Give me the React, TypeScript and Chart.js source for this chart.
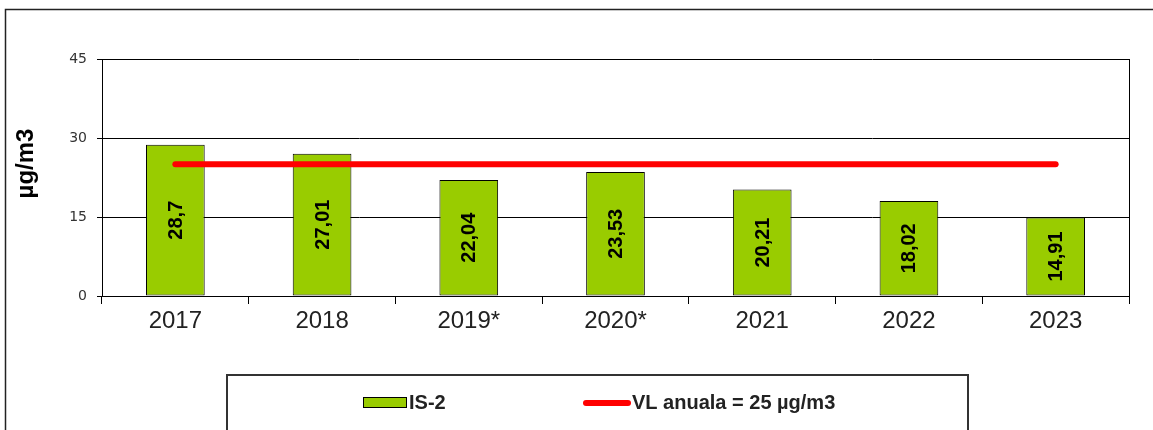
import React, { useEffect, useRef } from "react";
import { Chart, registerables } from "chart.js";

Chart.register(...registerables);

const categories = ["2017", "2018", "2019*", "2020*", "2021", "2022", "2023"];
const is2Values = [28.7, 27.01, 22.04, 23.53, 20.21, 18.02, 14.91];
const limitValues = [25, 25, 25, 25, 25, 25, 25];
const seriesLabels = ["IS-2", "VL anuala = 25 µg/m3"];
const yAxisTitle = "µg/m3";

const FONT = "'Liberation Sans', Arial, sans-serif";

const framePlugin = {
  id: "frame",
  afterDraw(chart: any) {
    const ctx = chart.ctx;
    const ca = chart.chartArea;
    ctx.save();
    // outer border
    ctx.strokeStyle = "#222";
    ctx.lineWidth = 1.5;
    ctx.strokeRect(5.5, 9.5, 1300, 600);
    // right border of plot area
    ctx.strokeStyle = "#000";
    ctx.lineWidth = 1;
    ctx.beginPath();
    ctx.moveTo(Math.round(ca.right) + 0.5, ca.top);
    ctx.lineTo(Math.round(ca.right) + 0.5, ca.bottom);
    ctx.stroke();
    // y axis title
    ctx.fillStyle = "#000";
    ctx.font = `bold 24px ${FONT}`;
    ctx.translate(26, (ca.top + ca.bottom) / 2 - 14);
    ctx.rotate(-Math.PI / 2);
    ctx.textAlign = "center";
    ctx.textBaseline = "middle";
    ctx.fillText(yAxisTitle, 0, 0);
    ctx.restore();

    // legend
    ctx.save();
    ctx.strokeStyle = "#333";
    ctx.lineWidth = 2;
    ctx.strokeRect(227, 375, 741, 200);
    const ds = chart.data.datasets;
    // bar entry
    ctx.fillStyle = ds[0].backgroundColor;
    ctx.fillRect(363, 397, 44, 11);
    ctx.strokeStyle = "#000";
    ctx.lineWidth = 1;
    ctx.strokeRect(363.5, 397.5, 43, 10);
    ctx.fillStyle = "#222";
    ctx.font = `bold 20px ${FONT}`;
    ctx.textBaseline = "middle";
    ctx.textAlign = "left";
    ctx.fillText(ds[0].label, 409, 403);
    // line entry
    ctx.strokeStyle = ds[1].borderColor;
    ctx.lineWidth = 6;
    ctx.lineCap = "round";
    ctx.beginPath();
    ctx.moveTo(586, 403);
    ctx.lineTo(628, 403);
    ctx.stroke();
    ctx.fillText(ds[1].label, 632, 403);
    ctx.restore();
  },
};

const labelPlugin = {
  id: "barLabels",
  afterDatasetsDraw(chart: any) {
    const ctx = chart.ctx;
    const meta = chart.getDatasetMeta(0);
    const values = chart.data.datasets[0].data;
    ctx.save();
    ctx.fillStyle = "#000";
    ctx.font = `bold 20px ${FONT}`;
    ctx.textAlign = "center";
    ctx.textBaseline = "middle";
    meta.data.forEach((el: any, i: number) => {
      const x = el.x;
      const y = (el.y + el.base) / 2;
      ctx.save();
      ctx.translate(x, y);
      ctx.rotate(-Math.PI / 2);
      ctx.fillText(String(values[i]).replace(".", ","), 0, 1);
      ctx.restore();
    });
    ctx.restore();
  },
};

export default function App() {
  const ref = useRef<HTMLCanvasElement>(null);
  useEffect(() => {
    if (!ref.current) return;
    const chart = new Chart(ref.current, {
      type: "bar",
      data: {
        labels: categories,
        datasets: [
          {
            type: "bar",
            label: seriesLabels[0],
            data: is2Values,
            backgroundColor: "#99CC00",
            borderColor: "#000",
            borderWidth: 1,
            borderSkipped: false,
            barPercentage: 0.4,
            categoryPercentage: 1,
            order: 2,
          },
          {
            type: "line",
            label: seriesLabels[1],
            data: limitValues,
            borderColor: "#FF0000",
            backgroundColor: "#FF0000",
            borderWidth: 6,
            borderCapStyle: "round",
            pointRadius: 0,
            fill: false,
            order: 1,
          },
        ] as any,
      },
      options: {
        responsive: false,
        animation: false,
        layout: { padding: { left: 0, right: 24, top: 59, bottom: 0 } },
        plugins: {
          legend: { display: false },
          tooltip: { enabled: false },
        },
        scales: {
          x: {
            offset: true,
            grid: {
              offset: true,
              drawOnChartArea: false,
              tickLength: 8,
              color: "#000",
            },
            border: { color: "#000" },
            ticks: {
              color: "#222",
              font: { family: FONT, size: 24 },
              padding: 3,
            },
            afterFit(scale: any) {
              scale.height = 134;
            },
          },
          y: {
            min: 0,
            max: 45,
            ticks: {
              stepSize: 15,
              color: "#333",
              font: { family: "'DejaVu Sans', sans-serif", size: 14 },
              padding: 10,
            },
            grid: { color: "#000", tickLength: 5 },
            border: { color: "#000" },
            afterFit(scale: any) {
              scale.width = 102;
            },
          },
        },
      },
      plugins: [labelPlugin, framePlugin],
    });
    return () => chart.destroy();
  }, []);
  return (
    <div style={{ position: "absolute", left: 0, top: 0, width: 1153, height: 430, background: "#fff" }}>
      <canvas ref={ref} width={1153} height={430} />
    </div>
  );
}
